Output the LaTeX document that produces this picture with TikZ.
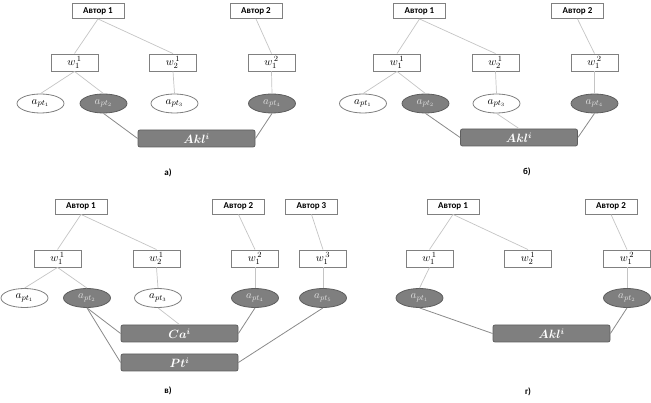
\documentclass[tikz,border=0pt]{standalone}
\usepackage{fontspec}
\usepackage{amsmath,bm}
\setmainfont{Carlito}
\usetikzlibrary{shapes.geometric}
\definecolor{bord}{HTML}{808080}
\definecolor{tree}{HTML}{C4C4C4}
\definecolor{gfill}{HTML}{7F7F7F}
\definecolor{gbord}{HTML}{5E5E5E}
\definecolor{link}{HTML}{8A8A8A}
\tikzset{
  author/.style={draw=bord,line width=0.9pt,fill=white,minimum width=52pt,minimum height=15pt,inner sep=0pt,font=\bfseries\fontsize{9}{10}\selectfont},
  wbox/.style={draw=bord,line width=0.9pt,fill=white,minimum width=47pt,minimum height=17pt,inner sep=0pt,font=\fontsize{11}{12}\selectfont},
  aell/.style={ellipse,draw=bord,line width=0.8pt,fill=white,minimum width=47pt,minimum height=19pt,inner sep=0pt,font=\fontsize{11}{12}\selectfont},
  gell/.style={aell,fill=gfill,draw=gbord,text=white!88!black},
  bar/.style={draw=gbord,line width=0.8pt,fill=gfill,rounded corners=2pt,minimum width=117pt,minimum height=17pt,inner sep=0pt,text=white,font=\fontsize{11.5}{12}\selectfont},
  tline/.style={draw=tree,line width=0.7pt},
  lline/.style={draw=link,line width=0.8pt},
  plabel/.style={font=\bfseries\fontsize{9}{10}\selectfont}
}
\newcommand{\wl}[2]{$w_{#1}^{\,#2}$}
\begin{document}
\begin{tikzpicture}[x=1pt,y=-1pt]
\useasboundingbox (0,0) rectangle (651,403);
% ---------- a)
\node[author] (a1) at (98,11) {Автор 1};
\node[author] (a2) at (256,11) {Автор 2};
\node[wbox] (aw11) at (74.5,62.5) {\wl{1}{1}};
\node[wbox] (aw21) at (173,62.5) {\wl{2}{1}};
\node[wbox] (aw12) at (271.5,62.5) {\wl{1}{2}};
\node[aell] (ap1) at (40.5,103.5) {$a_{pt_1}$};
\node[gell] (ap2) at (103.5,103.5) {$a_{pt_2}$};
\node[aell] (ap3) at (174.5,103.5) {$a_{pt_3}$};
\node[gell] (ap4) at (272,103.5) {$a_{pt_4}$};
\node[bar] (aakl) at (196.5,138.5) {$\bm{Akl^i}$};
\node[plabel] (la) at (168,173) {а)};
\draw[tline] (a1.south) -- (aw11.north);
\draw[tline] (a1.south) -- (aw21.north);
\draw[tline] (a2.south) -- (aw12.north);
\draw[tline] (aw11.south) -- (ap1.north);
\draw[tline] (aw11.south) -- (ap2.north);
\draw[tline] (aw21.south) -- (ap3.north);
\draw[tline] (aw12.south) -- (ap4.north);
\draw[lline] (ap2.south) -- (aakl.west);
\draw[lline] (ap4.south) -- (aakl.east);
% ---------- b)
\node[author] (b1) at (419.5,11) {Автор 1};
\node[author] (b2) at (577.5,11) {Автор 2};
\node[wbox] (bw11) at (397,62.5) {\wl{1}{1}};
\node[wbox] (bw21) at (495.5,62.5) {\wl{2}{1}};
\node[wbox] (bw12) at (594.5,62.5) {\wl{1}{2}};
\node[aell] (bp1) at (363,103.5) {$a_{pt_1}$};
\node[gell] (bp2) at (425.5,103.5) {$a_{pt_2}$};
\node[aell] (bp3) at (496.5,103.5) {$a_{pt_3}$};
\node[gell] (bp4) at (594.5,103.5) {$a_{pt_4}$};
\node[bar] (bakl) at (519,137.5) {$\bm{Akl^i}$};
\node[plabel] (lb) at (527,172) {б)};
\draw[tline] (b1.south) -- (bw11.north);
\draw[tline] (b1.south) -- (bw21.north);
\draw[tline] (b2.south) -- (bw12.north);
\draw[tline] (bw11.south) -- (bp1.north);
\draw[tline] (bw11.south) -- (bp2.north);
\draw[tline] (bw21.south) -- (bp3.north);
\draw[tline] (bw12.south) -- (bp4.north);
\draw[lline] (bp2.south) -- (bakl.west);
\draw[tline] (bp3.south) -- (bakl.north);
\draw[lline] (bp4.south) -- (bakl.east);
% ---------- c)
\node[author] (c1) at (81,206.5) {Автор 1};
\node[author] (c2) at (238.5,206.5) {Автор 2};
\node[author] (c3) at (311.5,206.5) {Автор 3};
\node[wbox] (cw11) at (57.5,258.5) {\wl{1}{1}};
\node[wbox] (cw21) at (156.5,258.5) {\wl{2}{1}};
\node[wbox] (cw12) at (255,258.5) {\wl{1}{2}};
\node[wbox] (cw13) at (323,258.5) {\wl{1}{3}};
\node[aell] (cp1) at (24.5,298) {$a_{pt_1}$};
\node[gell] (cp2) at (87,298) {$a_{pt_2}$};
\node[aell] (cp3) at (158,298) {$a_{pt_3}$};
\node[gell] (cp4) at (255,298) {$a_{pt_4}$};
\node[gell] (cp5) at (323,298) {$a_{pt_5}$};
\node[bar] (cca) at (179.5,333.5) {$\bm{Ca^i}$};
\node[bar] (cpt) at (179.5,362.5) {$\bm{Pt^i}$};
\node[plabel] (lc) at (168,391) {в)};
\draw[tline] (c1.south) -- (cw11.north);
\draw[tline] (c1.south) -- (cw21.north);
\draw[tline] (c2.south) -- (cw12.north);
\draw[tline] (c3.south) -- (cw13.north);
\draw[tline] (cw11.south) -- (cp1.north);
\draw[tline] (cw11.south) -- (cp2.north);
\draw[tline] (cw21.south) -- (cp3.north);
\draw[tline] (cw12.south) -- (cp4.north);
\draw[tline] (cw13.south) -- (cp5.north);
\draw[lline] (cp2.south) -- (cca.west);
\draw[lline] (cp2.south) -- (cpt.west);
\draw[tline] (cp3.south) -- (cca.north);
\draw[lline] (cp4.south) -- (cca.east);
\draw[lline] (cp5.south) -- (cpt.east);
% ---------- d)
\node[author] (d1) at (453,206.5) {Автор 1};
\node[author] (d2) at (611,206.5) {Автор 2};
\node[wbox] (dw11) at (429.5,258.5) {\wl{1}{1}};
\node[wbox] (dw21) at (528,258.5) {\wl{2}{1}};
\node[wbox] (dw12) at (627,258.5) {\wl{1}{2}};
\node[gell] (dp1) at (419.5,298) {$a_{pt_1}$};
\node[gell] (dp2) at (627,298) {$a_{pt_2}$};
\node[bar] (dakl) at (551.5,333.5) {$\bm{Akl^i}$};
\node[plabel] (ld) at (528,392) {г)};
\draw[tline] (d1.south) -- (dw11.north);
\draw[tline] (d1.south) -- (dw21.north);
\draw[tline] (d2.south) -- (dw12.north);
\draw[tline] (dw11.south) -- (dp1.north);
\draw[tline] (dw12.south) -- (dp2.north);
\draw[lline] (dp1.south) -- (dakl.west);
\draw[lline] (dp2.south) -- (dakl.east);
\end{tikzpicture}
\end{document}
